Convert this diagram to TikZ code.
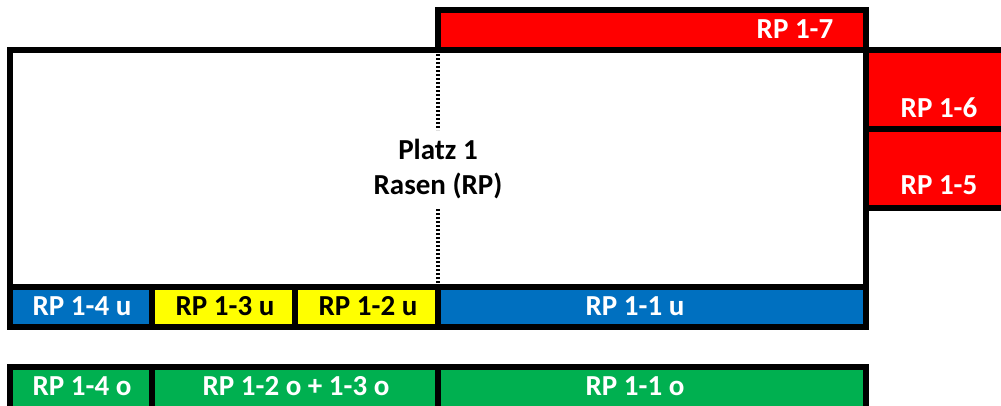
\documentclass[tikz,border=0pt]{standalone}
\usepackage{fontspec}
\setmainfont{Carlito}
\definecolor{rpred}{HTML}{FF0000}
\definecolor{rpblue}{HTML}{0070C0}
\definecolor{rpyellow}{HTML}{FFFF00}
\definecolor{rpgreen}{HTML}{00B050}

\begin{document}
\begin{tikzpicture}[x=1pt,y=-1pt,
    feld/.style={draw=black,line width=6pt,inner sep=0pt,outer sep=0pt},
    lbl/.style={font=\fontsize{29}{34}\selectfont\bfseries,text=white,inner sep=0pt}]
      \clip (0,0) rectangle (1001,405);
      \node[feld,fill=white,minimum width=856,minimum height=237] (platz) at (438,168.5) {};
      \node[feld,fill=rpred,minimum width=428,minimum height=40] (rp17) at (652,30) {};
      \node[feld,fill=rpred,minimum width=144,minimum height=79] (rp16) at (938,89.5) {};
      \node[feld,fill=rpred,minimum width=144,minimum height=79] (rp15) at (938,168.5) {};
      \node[feld,fill=rpblue,minimum width=142,minimum height=40] (rp14u) at (81,307) {};
      \node[feld,fill=rpyellow,minimum width=143,minimum height=40] (rp13u) at (223.5,307) {};
      \node[feld,fill=rpyellow,minimum width=143,minimum height=40] (rp12u) at (366.5,307) {};
      \node[feld,fill=rpblue,minimum width=428,minimum height=40] (rp11u) at (652,307) {};
      \node[feld,fill=rpgreen,minimum width=142,minimum height=60] (rp14o) at (81,397) {};
      \node[feld,fill=rpgreen,minimum width=286,minimum height=60] (rp123o) at (295,397) {};
      \node[feld,fill=rpgreen,minimum width=428,minimum height=60] (rp11o) at (652,397) {};
      % Trennlinie
      \draw[line width=3.5pt,dash pattern=on 2pt off 2pt] (platz.north) -- (438,130);
      \draw[line width=3.5pt,dash pattern=on 2pt off 2pt] (platz.south) -- (438,208);
      % Beschriftung
      \node[lbl,text=black] (platztxt) at (438,149) {Platz 1};
      \node[lbl,text=black] (rasentxt) at (438,186) {Rasen (RP)};
      \node[lbl] (t17) at (795,29) {RP 1-7};
      \node[lbl] (t16) at (939,108) {RP 1-6};
      \node[lbl] (t15) at (939,185) {RP 1-5};
      \node[lbl] (t14u) at (82,306) {RP 1-4 u};
      \node[lbl,text=black] (t13u) at (225,306) {RP 1-3 u};
      \node[lbl,text=black] (t12u) at (368,306) {RP 1-2 u};
      \node[lbl] (t11u) at (635,306) {RP 1-1 u};
      \node[lbl] (t14o) at (82,386) {RP 1-4 o};
      \node[lbl] (t123o) at (296,386) {RP 1-2 o + 1-3 o};
      \node[lbl] (t11o) at (635,386) {RP 1-1 o};
\end{tikzpicture}
\end{document}
